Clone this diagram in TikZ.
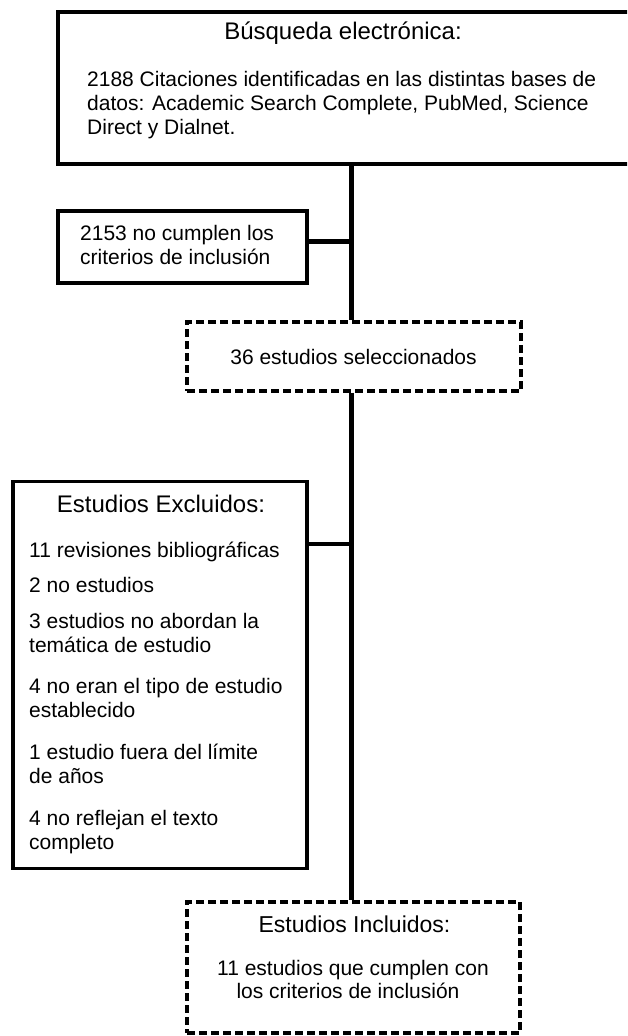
\documentclass[tikz,border=0pt]{standalone}
\usepackage{fontspec}
\setmainfont{Liberation Sans}
\begin{document}
\begin{tikzpicture}[x=1pt,y=-1pt,
  box/.style={draw=black,line width=3.4pt,rectangle,inner sep=0pt,fill=white},
  dbox/.style={box,line width=3.2pt,dash pattern=on 8pt off 4pt},
  txt/.style={inner sep=0pt,font=\fontsize{21}{24}\selectfont},
  ttl/.style={inner sep=0pt,anchor=base,font=\fontsize{24}{27}\selectfont},
  lt/.style={txt,anchor=base west},
  ct/.style={txt,anchor=base},
  trunkline/.style={line width=5pt},
  conn/.style={line width=4.8pt}]
\useasboundingbox (0,0) rectangle (627,1036);
\clip (0,0) rectangle (627,1036);
% boxes
\node[box,minimum width=600pt,minimum height=152pt] (top) at (358,88) {};
\node[box,minimum width=249pt,minimum height=72pt] (ex1) at (182.5,247) {};
\node[dbox,minimum width=334pt,minimum height=69pt] (sel) at (354,356.5) {};
\node[box,minimum width=294pt,minimum height=387pt] (ex2) at (160,675) {};
\node[dbox,minimum width=333pt,minimum height=131pt] (incl) at (353.5,967.5) {};
% junctions
\coordinate (trunk) at (351,0);
\coordinate (j1) at (351,241.5);
\coordinate (j2) at (351,544);
% connectors
\draw[trunkline] (top.south -| trunk) -- (sel.north -| trunk);
\draw[trunkline] (sel.south -| trunk) -- (incl.north -| trunk);
\draw[conn] (j1 -| ex1.east) -- (j1);
\draw[conn] (j2 -| ex2.east) -- (j2);
% texts top
\node[ttl] (t1) at (343,39) {Búsqueda electrónica:};
\node[lt] (t2) at (87,86.5) {2188 Citaciones identificadas en las distintas bases de};
\node[lt] (t3) at (87,110.5) {datos: Academic Search Complete, PubMed, Science};
\node[lt] (t4) at (87,134) {Direct y Dialnet.};
% 2153
\node[lt] (e1a) at (80,240) {2153 no cumplen los};
\node[lt] (e1b) at (80,264) {criterios de inclusión};
% 36
\node[ct] (s1) at (353.5,364) {36 estudios seleccionados};
% excluded
\node[ttl] (x0) at (161,512) {Estudios Excluidos:};
\node[lt] (x1) at (29,557.5) {11 revisiones bibliográficas};
\node[lt] (x2) at (29,592) {2 no estudios};
\node[lt] (x3) at (29,628) {3 estudios no abordan la};
\node[lt] (x4) at (29,652) {temática de estudio};
\node[lt] (x5) at (29,693.5) {4 no eran el tipo de estudio};
\node[lt] (x6) at (29,717.5) {establecido};
\node[lt] (x7) at (29,759.5) {1 estudio fuera del límite};
\node[lt] (x8) at (29,783.5) {de años};
\node[lt] (x9) at (29,825.5) {4 no reflejan el texto};
\node[lt] (x10) at (29,849.5) {completo};
% included
\node[ttl,font=\fontsize{23}{26}\selectfont] (i0) at (354.5,932) {Estudios Incluidos:};
\node[ct] (i1) at (353,975) {11 estudios que cumplen con};
\node[ct] (i2) at (348,998.5) {los criterios de inclusión};
\end{tikzpicture}
\end{document}
